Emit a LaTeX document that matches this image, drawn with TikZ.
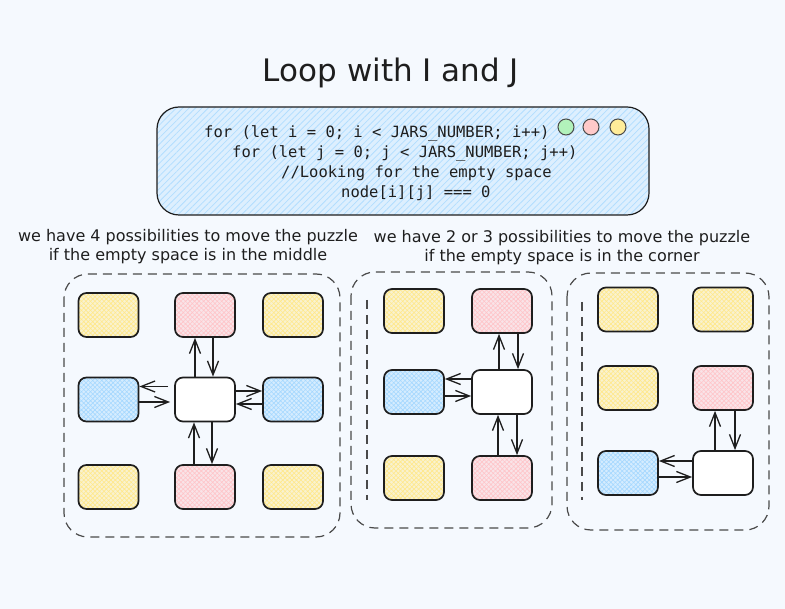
\documentclass[tikz,border=0pt]{standalone}
\usepackage{fontspec}
\setmainfont{DejaVu Sans}
\newfontfamily\codefont{DejaVu Sans Mono}
\usetikzlibrary{arrows.meta,patterns.meta}
\definecolor{bgc}{HTML}{F5F9FE}
\definecolor{ink}{HTML}{1E1E1E}
\definecolor{dashc}{HTML}{4A4A4A}
\definecolor{yelc}{HTML}{FFE88A}
\definecolor{redc}{HTML}{FFC4C8}
\definecolor{bluc}{HTML}{A5D8FF}
\definecolor{grnc}{HTML}{B2F2BB}
\definecolor{dotred}{HTML}{FFC9C9}
\definecolor{dotyel}{HTML}{FFEC99}
\tikzset{
  jarbox/.style={draw=ink, line width=1.7pt, rounded corners=8pt,
    minimum width=60pt, minimum height=44pt, inner sep=0pt},
  hatchfill/.style={preaction={fill=#1!40!bgc},
    pattern={Hatch[angle=45,distance=3.2pt,line width=0.6pt]}, pattern color=#1},
  yel/.style={jarbox, hatchfill=yelc},
  red/.style={jarbox, hatchfill=redc},
  blu/.style={jarbox, hatchfill=bluc},
  wht/.style={jarbox, fill=white},
  panel/.style={draw=dashc, line width=1.2pt, dash pattern=on 9pt off 6pt, rounded corners=24pt},
  arr/.style={draw=ink, line width=1.3pt, -{Straight Barb[length=14pt,width=11pt,line width=1.3pt]}},
  dot/.style={circle, draw=dashc, line width=1pt, minimum size=16pt, inner sep=0pt},
  codeline/.style={anchor=base west, inner sep=0pt, text=ink,
    font=\codefont\fontsize{15.5pt}{19pt}\selectfont},
  lbl/.style={align=center, text=ink, inner sep=0pt,
    font=\fontsize{16pt}{19pt}\selectfont},
}
\begin{document}
\begin{tikzpicture}[x=1pt,y=-1pt]
\useasboundingbox (0,0) rectangle (785,609);
\fill[bgc] (0,0) rectangle (785,609);

% title
\node[text=ink, inner sep=0pt, font=\fontsize{31pt}{36pt}\selectfont] (title) at (391,73) {Loop with I and J};

% code box
\draw[draw=ink, line width=1.2pt, rounded corners=22pt,
  preaction={fill=bluc!30!bgc},
  pattern={Lines[angle=45,distance=4.5pt,line width=0.8pt]}, pattern color=bluc!85]
  (157,107) rectangle (649,215);
\node[dot, fill=grnc] (g) at (566,127) {};
\node[dot, fill=dotred] (r) at (591,127) {};
\node[dot, fill=dotyel] (y) at (618,127) {};
\node[codeline] (l1) at (204,138) {for (let i = 0; i < JARS\_NUMBER; i++)};
\node[codeline] (l2) at (232,158) {for (let j = 0; j < JARS\_NUMBER; j++)};
\node[codeline] (l3) at (281,178) {//Looking for the empty space};
\node[codeline] (l4) at (341,198) {node[i][j] === 0};

% labels
\node[lbl] (lab1) at (188,247) {we have 4 possibilities to move the puzzle\\if the empty space is in the middle};
\node[lbl] (lab2) at (562,248) {we have 2 or 3 possibilities to move the puzzle\\if the empty space is in the corner};

% panels
\draw[panel] (64,274) rectangle (340,537);
\draw[panel] (351,272) rectangle (552,528);
\draw[panel] (567,273) rectangle (769,530);
\draw[panel, rounded corners=0pt] (367,300) -- (367,500);
\draw[panel, rounded corners=0pt] (582,302) -- (582,500);

% panel 1
\node[yel] (a11) at (108.5,315) {};
\node[red] (a12) at (205,315) {};
\node[yel] (a13) at (293,315) {};
\node[blu] (a21) at (108.5,399.5) {};
\node[wht] (a22) at (205,399.5) {};
\node[blu] (a23) at (293,399.5) {};
\node[yel] (a31) at (108.5,487) {};
\node[red] (a32) at (205,487) {};
\node[yel] (a33) at (293,487) {};
\draw[arr] ([xshift=-10pt]a22.north) -- ([xshift=-10pt]a12.south);
\draw[arr] ([xshift=8pt]a12.south) -- ([xshift=8pt]a22.north);
\draw[arr, shorten <=6pt] ([yshift=13pt]a22.west) -- ([yshift=13pt]a21.east);
\draw[arr, shorten >=4pt] ([yshift=-2.5pt]a21.east) -- ([yshift=-2.5pt]a22.west);
\draw[arr] ([yshift=8.5pt]a22.east) -- ([yshift=8.5pt]a23.west);
\draw[arr] ([yshift=-4.5pt]a23.west) -- ([yshift=-4.5pt]a22.east);
\draw[arr] ([xshift=-11pt]a32.north) -- ([xshift=-11pt]a22.south);
\draw[arr] ([xshift=7pt]a22.south) -- ([xshift=7pt]a32.north);

% panel 2
\node[yel] (b11) at (414,311) {};
\node[red] (b12) at (502,311) {};
\node[blu] (b21) at (414,392) {};
\node[wht] (b22) at (502,392) {};
\node[yel] (b31) at (414,478) {};
\node[red] (b32) at (502,478) {};
\draw[arr] ([xshift=-3pt]b22.north) -- ([xshift=-3pt]b12.south);
\draw[arr] ([xshift=16pt]b12.south) -- ([xshift=16pt]b22.north);
\draw[arr] ([yshift=13pt]b22.west) -- ([yshift=13pt]b21.east);
\draw[arr] ([yshift=-4pt]b21.east) -- ([yshift=-4pt]b22.west);
\draw[arr] ([xshift=-4pt]b32.north) -- ([xshift=-4pt]b22.south);
\draw[arr] ([xshift=15pt]b22.south) -- ([xshift=15pt]b32.north);

% panel 3
\node[yel] (c11) at (628,309.5) {};
\node[yel] (c12) at (723,309.5) {};
\node[yel] (c21) at (628,388) {};
\node[red] (c22) at (723,388) {};
\node[blu] (c31) at (628,473) {};
\node[wht] (c32) at (723,473) {};
\draw[arr] ([xshift=-8pt]c32.north) -- ([xshift=-8pt]c22.south);
\draw[arr] ([xshift=12pt]c22.south) -- ([xshift=12pt]c32.north);
\draw[arr] ([yshift=12pt]c32.west) -- ([yshift=12pt]c31.east);
\draw[arr] ([yshift=-4pt]c31.east) -- ([yshift=-4pt]c32.west);
\end{tikzpicture}
\end{document}
